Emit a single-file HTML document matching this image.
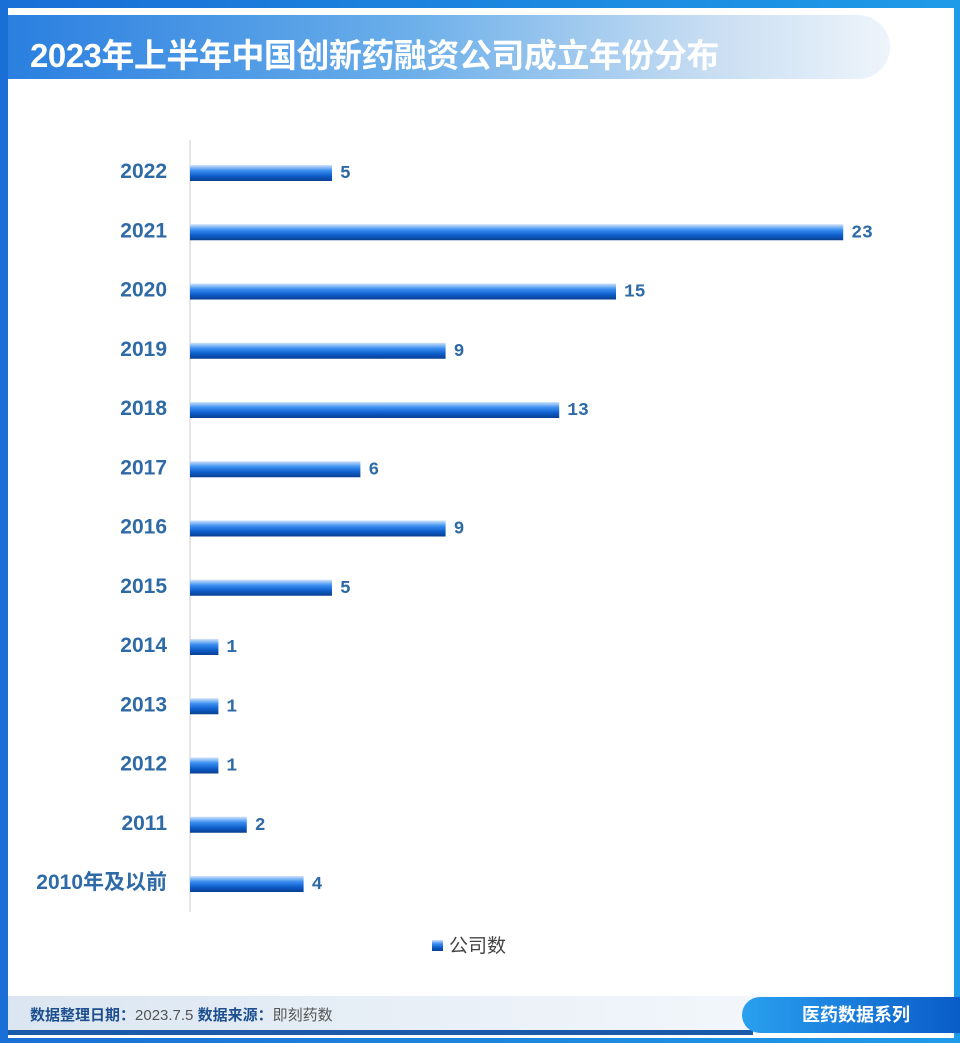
<!DOCTYPE html>
<html><head><meta charset="utf-8"><style>
body{margin:0;width:960px;height:1043px;overflow:hidden;background:#fff;font-family:"Liberation Sans","Noto Sans CJK SC",sans-serif}
#frame{position:absolute;left:0;top:0;width:960px;height:1043px;background:linear-gradient(90deg,#1a6fd6,#1e9be8);}
#inner{position:absolute;left:8px;top:8px;width:946px;height:1030px;background:#fff}
#hdr{position:absolute;left:8px;top:15px;width:882px;height:64px;border-radius:0 32px 32px 0;background:linear-gradient(90deg,#2a7fe0 0%,#6aaeea 45%,#c9def2 80%,#eef4fb 100%)}
#title{position:absolute;left:30px;top:29px;font-size:33px;font-weight:bold;color:#fff;letter-spacing:-0.5px}
#foot{position:absolute;left:8px;top:996px;width:760px;height:34px;background:linear-gradient(90deg,#dbe6f2,#f3f7fb)}
#footline{position:absolute;left:8px;top:1030px;width:745px;height:5px;background:#1a5aa8}
#ftxt{position:absolute;left:30px;top:1004px;font-size:15px;color:#555}
#ftxt b{color:#1d4f8f}
#tab{position:absolute;left:742px;top:997px;width:218px;height:36px;border-radius:18px 0 0 18px;background:linear-gradient(90deg,#2aa0f0,#0a5cc8);color:#fff;font-weight:bold;font-size:18px;line-height:36px;text-indent:60px}
</style></head><body>
<div id="frame"></div>
<div id="inner"></div>
<div id="hdr"></div>
<div id="title">2023年上半年中国创新药融资公司成立年份分布</div>
<svg id="chart" width="960" height="1043" style="position:absolute;left:0;top:0">
<defs><linearGradient id="bg" x1="0" y1="0" x2="0" y2="1">
<stop offset="0" stop-color="#cfe3fb"/><stop offset="0.35" stop-color="#3a8ef0"/><stop offset="0.7" stop-color="#0d5cc9"/><stop offset="1" stop-color="#0a3f8f"/></linearGradient></defs>
<g id="g"></g>
</svg>
<div id="foot"></div>
<div id="footline"></div>
<div id="ftxt"><b>数据整理日期：</b>2023.7.5 <b>数据来源：</b>即刻药数</div>
<div id="tab">医药数据系列</div>
<script>
const categories=["2022","2021","2020","2019","2018","2017","2016","2015","2014","2013","2012","2011","2010年及以前"];
const values=[5,23,15,9,13,6,9,5,1,1,1,2,4];
const seriesName="公司数";
const x0=190,unit=28.4,y0=173,step=59.25,bh=16;
const xs=v=>x0+v*unit, ys=i=>y0+i*step;
const g=document.getElementById('g');
const NS="http://www.w3.org/2000/svg";
function mk(t,a){const e=document.createElementNS(NS,t);for(const k in a)e.setAttribute(k,a[k]);g.appendChild(e);return e;}
const ax=mk('line',{x1:x0,x2:x0,y1:140,y2:912,stroke:'#ccc','stroke-width':1});


categories.forEach((c,i)=>{
 const y=ys(i);
 const r=mk('rect',{x:x0,y:y-bh/2,width:xs(values[i])-x0,height:bh,fill:'url(#bg)'});
 
 
 const l=mk('text',{x:167,y:y+5,'text-anchor':'end','font-size':21,'font-weight':'bold',fill:'#2e6aa6'});
 l.textContent=c;
 
 
 const v=mk('text',{x:xs(values[i])+8,y:y+5,'font-size':18,'font-family':'Liberation Mono, monospace','font-weight':'bold',fill:'#2e6aa6'});
 v.textContent=values[i];
 
 
});
const lm=mk('rect',{x:432,y:940,width:11,height:11,fill:'url(#bg)'});


const lt=mk('text',{x:449,y:952,'font-size':19,fill:'#444'});
lt.textContent=seriesName;


</script>
</body></html>
